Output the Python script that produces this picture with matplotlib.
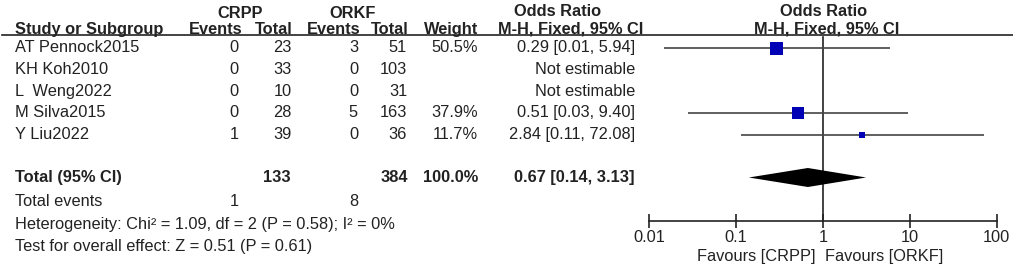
import matplotlib
matplotlib.use("Agg")
import matplotlib.pyplot as plt

plt.rcParams['font.family'] = ['Liberation Sans', 'DejaVu Sans']

# data
studies = ["AT Pennock2015", "KH Koh2010", "L  Weng2022", "M Silva2015", "Y Liu2022"]
crpp_events = [0, 0, 0, 0, 1]
crpp_total = [23, 33, 10, 28, 39]
orkf_events = [3, 0, 0, 5, 0]
orkf_total = [51, 103, 31, 163, 36]
weight = [50.5, None, None, 37.9, 11.7]
or_est = [0.29, None, None, 0.51, 2.84]
ci_lo = [0.0147, None, None, 0.028, 0.114]
ci_hi = [5.94, None, None, 9.40, 72.08]

total_label = "Total (95% CI)"
total_crpp = 133
total_orkf = 384
total_weight = 100.0
total_or = 0.67
total_lo = 0.14
total_hi = 3.13
events_crpp = 1
events_orkf = 8
het_text = "Heterogeneity: Chi² = 1.09, df = 2 (P = 0.58); I² = 0%"
effect_text = "Test for overall effect: Z = 0.51 (P = 0.61)"
ticks = [0.01, 0.1, 1, 10, 100]
tick_labels = ["0.01", "0.1", "1", "10", "100"]
favour_left = "Favours [CRPP]"
favour_right = "Favours [ORKF]"

W, H = 1013, 267
FS = 11.8
TXT = "#222222"

fig = plt.figure(figsize=(W / 100, H / 100), dpi=100)
fig.patch.set_facecolor("white")

# table axes in pixel units
ax = fig.add_axes([0, 0, 1, 1])
ax.set_xlim(0, W)
ax.set_ylim(H, 0)
ax.axis("off")

# forest axes: log scale, same vertical pixel units
x0, x1 = 649.3, 996.7
fax = fig.add_axes([x0 / W, 0, (x1 - x0) / W, 1])
fax.set_xscale("log")
fax.set_xlim(0.01, 100)
fax.set_ylim(H, 0)
fax.patch.set_visible(False)
for s in ["top", "left", "right"]:
    fax.spines[s].set_visible(False)
fax.spines["bottom"].set_position(("data", 220.7))
fax.spines["bottom"].set_color(TXT)
fax.spines["bottom"].set_linewidth(1.2)
fax.set_yticks([])
fax.set_xticks(ticks)
fax.set_xticklabels(tick_labels)
fax.minorticks_off()
fax.tick_params(axis="x", direction="inout", length=10, width=1.2, color=TXT,
                labelsize=FS, labelcolor=TXT, pad=2)

row_y0, row_dy = 47.5, 21.8
total_y = 177.5
base = 4.5  # baseline offset below row centre

def t(x, y, s, ha="left", bold=False):
    ax.text(x, y + base, s, ha=ha, va="baseline", fontsize=FS, color=TXT,
            fontweight="bold" if bold else "normal")

# headers
t(240, 14, "CRPP", ha="center", bold=True)
t(353, 14, "ORKF", ha="center", bold=True)
t(558, 12, "Odds Ratio", ha="center", bold=True)
t(824, 12, "Odds Ratio", ha="center", bold=True)
hy = 29.5
t(15, hy, "Study or Subgroup", bold=True)
t(243, hy, "Events", ha="right", bold=True)
t(293, hy, "Total", ha="right", bold=True)
t(360, hy, "Events", ha="right", bold=True)
t(409, hy, "Total", ha="right", bold=True)
t(478, hy, "Weight", ha="right", bold=True)
t(571, hy, "M-H, Fixed, 95% CI", ha="center", bold=True)
t(827, hy, "M-H, Fixed, 95% CI", ha="center", bold=True)
ax.plot([2, W], [35, 35], color=TXT, lw=1.2)

# study rows
for i, name in enumerate(studies):
    y = row_y0 + i * row_dy
    t(15, y, name)
    t(239, y, str(crpp_events[i]), ha="right")
    t(292, y, str(crpp_total[i]), ha="right")
    t(358, y, str(orkf_events[i]), ha="right")
    t(407, y, str(orkf_total[i]), ha="right")
    if weight[i] is None:
        t(635, y, "Not estimable", ha="right")
        continue
    t(478, y, f"{weight[i]:.1f}%", ha="right")
    t(635, y, f"{or_est[i]:.2f} [{ci_lo[i]:.2f}, {ci_hi[i]:.2f}]", ha="right")
    fax.plot([ci_lo[i], ci_hi[i]], [y, y], color="#444444", lw=1.2,
             solid_capstyle="butt", zorder=2)
    side = 13 * (weight[i] / 50.5) ** 0.5 * 0.72
    fax.plot(or_est[i], y, marker="s", ms=side, color="#0000B4", mec="#0000B4",
             mew=0, zorder=3)

# total row
t(15, total_y, total_label, bold=True)
t(291, total_y, str(total_crpp), ha="right", bold=True)
t(408, total_y, str(total_orkf), ha="right", bold=True)
t(478, total_y, f"{total_weight:.1f}%", ha="right", bold=True)
t(635, total_y, f"{total_or:.2f} [{total_lo:.2f}, {total_hi:.2f}]", ha="right", bold=True)
fax.fill([total_lo, total_or, total_hi, total_or],
         [total_y, total_y - 9.5, total_y, total_y + 9.5], color="black", lw=0, zorder=3)

t(15, 202, "Total events")
t(239, 202, str(events_crpp), ha="right")
t(358, 202, str(events_orkf), ha="right")
t(15, 224, het_text)
t(15, 246, effect_text)

# line of no effect
fax.plot([1, 1], [37, 220.7], color=TXT, lw=1.2, zorder=1)

fax.annotate(favour_left, xy=(1, 257), xytext=(-8, 0), textcoords="offset pixels",
             ha="right", va="center", fontsize=FS, color=TXT)
fax.annotate(favour_right, xy=(1, 257), xytext=(2, 0), textcoords="offset pixels",
             ha="left", va="center", fontsize=FS, color=TXT)

fig.savefig("out.png", dpi=100)
